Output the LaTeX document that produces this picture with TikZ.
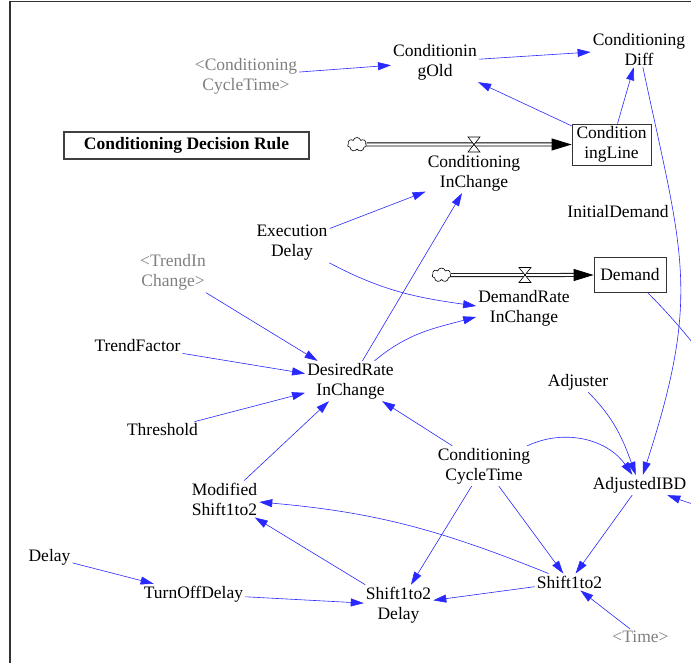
\documentclass[tikz,border=0pt]{standalone}
\usepackage{fontspec}
\setmainfont{Liberation Serif}
\usetikzlibrary{arrows.meta,shapes.symbols}
\definecolor{linkblue}{RGB}{40,40,255}
\definecolor{shadowgray}{RGB}{128,128,128}
\tikzset{
  var/.style={align=center, inner sep=2pt, font=\fontsize{17.5}{20}\selectfont},
  shadowvar/.style={var, text=shadowgray},
  stock/.style={var, draw=black!80, line width=0.8pt, inner sep=0pt},
  titlebox/.style={draw=black!75, line width=1.3pt, inner sep=0pt, minimum width=245, minimum height=27,
    font=\bfseries\fontsize{17.5}{20}\selectfont},
  source/.style={cloud, cloud puffs=7, aspect=1.4, draw, fill=white, line width=0.6pt,
    inner sep=0pt, minimum width=19pt, minimum height=14pt},
  link/.style={draw=linkblue, line width=0.6pt, -{Triangle[length=13pt,width=8pt]}},
  pipe/.style={draw=black, line width=0.8pt, double=white, double distance=2.4pt,
    -{Triangle[length=20pt,width=12pt]}},
  valve/.pic={\draw[fill=white, line width=0.6pt] (-6,7.5) -- (6,7.5) -- (-6,-7.5) -- (6,-7.5) -- cycle;}
}
\begin{document}
\begin{tikzpicture}[x=1pt,y=1pt]
  \useasboundingbox (0,0) rectangle (691,-663);
  \clip (0,0) rectangle (691,-663);
  \draw[line width=1.5pt, black!80] (10,-663) -- (10,-1.5) -- (691,-1.5);
  \draw
    (246,-76) node[shadowvar] (cctshadow) {<Conditioning\\CycleTime>}
    (435,-62) node[var] (condold) {Conditionin\\gOld}
    (639,-49) node[var] (conddiff) {Conditioning\\Diff}
    (186.5,-145.5) node[titlebox] (rule) {Conditioning Decision Rule}
    (357,-144.5) node[source] (src1) {}
    (611.5,-144.5) node[stock, minimum width=79, minimum height=41] (condline) {Condition\\ingLine}
    (474,-173) node[var] (condin) {Conditioning\\InChange}
    (618,-212) node[var] (initdem) {InitialDemand}
    (292,-243) node[var] (execdelay) {Execution\\Delay}
    (173,-272.5) node[shadowvar] (trendshadow) {<TrendIn\\Change>}
    (441.5,-275) node[source] (src2) {}
    (630,-275) node[stock, minimum width=72, minimum height=35] (demand) {Demand}
    (524,-308.5) node[var] (demandin) {DemandRate\\InChange}
    (137.5,-346) node[var] (trendfac) {TrendFactor}
    (350.5,-381) node[var] (desired) {DesiredRate\\InChange}
    (578,-382) node[var] (adjuster) {Adjuster}
    (162.5,-430) node[var] (threshold) {Threshold}
    (484,-466) node[var] (cct) {Conditioning\\CycleTime}
    (639.5,-485) node[var] (adjibd) {AdjustedIBD}
    (224.5,-499) node[var] (modshift) {Modified\\Shift1to2}
    (49.5,-557) node[var] (delay) {Delay}
    (193.5,-594) node[var] (turnoff) {TurnOffDelay}
    (569.5,-582) node[var] (shift) {Shift1to2}
    (398.5,-605) node[var] (shiftdelay) {Shift1to2\\Delay}
    (640.5,-637) node[shadowvar] (time) {<Time>};
  \draw[pipe] (src1) -- (condline);
  \draw[pipe] (src2) -- (demand);
  \path (474,-144.5) pic {valve} (525,-275) pic {valve};
  \begin{scope}[link]
    \draw (cctshadow) to (condold);
    \draw (condold) to (conddiff);
    \draw (condline) to (condold);
    \draw (condline) to (conddiff);
    \draw (conddiff) to[out=-78, in=72, looseness=1.2] (adjibd);
    \draw (execdelay) to (condin);
    \draw (desired) to (condin);
    \draw (execdelay) to[out=-28, in=172] (demandin.177);
    \draw (desired) to[out=40, in=195] (demandin.190);
    \draw (trendshadow) to (desired);
    \draw (trendfac) to (desired);
    \draw (threshold) to (desired);
    \draw (modshift) to (desired);
    \draw (cct) to (desired);
    \draw (cct) to[out=25, in=125] (adjibd);
    \draw (adjuster) to[out=-45, in=110] (adjibd);
    \draw (demand) to[out=-45, in=-20, looseness=2] (adjibd);
    \draw (adjibd) to (shift);
    \draw (cct) to (shift);
    \draw (cct) to (shiftdelay);
    \draw (shift) to[out=158, in=-5] (modshift);
    \draw (shiftdelay) to (modshift);
    \draw (shift) to (shiftdelay);
    \draw (turnoff) to (shiftdelay);
    \draw (delay) to (turnoff);
    \draw (time) to (shift);
  \end{scope}
\end{tikzpicture}
\end{document}
